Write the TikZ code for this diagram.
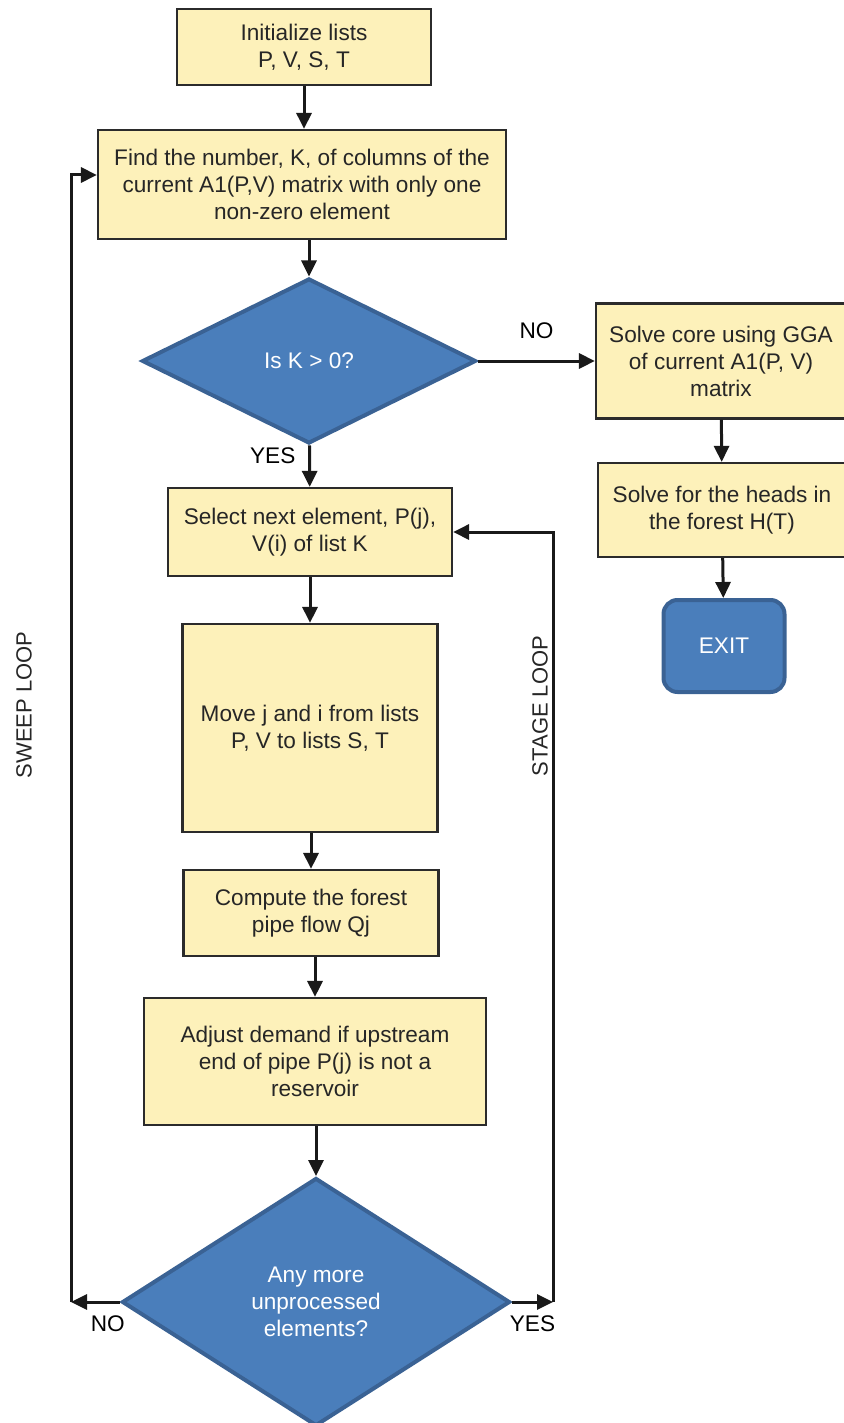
\documentclass[tikz,border=0pt]{standalone}
\usepackage{fontspec}
\setmainfont{Liberation Sans}
\usetikzlibrary{shapes.geometric, arrows.meta}
\definecolor{boxfill}{HTML}{FDF1BA}
\definecolor{boxline}{HTML}{2B2B2B}
\definecolor{decfill}{HTML}{4A7EBB}
\definecolor{decline}{HTML}{3A6294}
\newcommand{\boxfont}{\fontsize{11.3pt}{13.5pt}\selectfont}
\newcommand{\loopfont}{\fontsize{11pt}{13pt}\selectfont}
\tikzstyle{process}=[draw=boxline, fill=boxfill, line width=1.1pt, align=center,
  inner sep=0pt, text=black!85, font=\boxfont]
\tikzstyle{decision}=[diamond, draw=decline, fill=decfill, line width=2pt,
  align=center, inner sep=0pt, text=white, font=\boxfont]
\tikzstyle{terminal}=[rounded corners=7pt, draw=decline, fill=decfill,
  line width=2pt, text=white, font=\boxfont]
\tikzstyle{looplabel}=[rotate=90, font=\loopfont, text=black!85]

\begin{document}
\begin{tikzpicture}[x=0.5pt, y=-0.5pt, line width=1.5pt, draw=black!90,
    >={Triangle[length=8pt,width=7.5pt]}, font=\boxfont]
        \useasboundingbox (0,0) rectangle (844,1423);

        % main column
        \node[process, minimum width=127pt, minimum height=38pt] (init) at (304,47)
            {Initialize lists\\P, V, S, T};
        \node[process, minimum width=204pt, minimum height=54.5pt] (find) at (302,184.5)
            {Find the number, K, of columns of the\\current A1(P,V) matrix with only one\\non-zero element};
        \node[decision, minimum width=167pt, minimum height=82.5pt] (isk) at (309,361)
            {Is K > 0?};
        \node[process, minimum width=142pt, minimum height=44pt] (select) at (310,532)
            {Select next element, P(j),\\V(i) of list K};
        \node[process, minimum width=127.5pt, minimum height=104pt] (move) at (310,728)
            {Move j and i from lists\\P, V to lists S, T};
        \node[process, minimum width=127.5pt, minimum height=43pt] (compute) at (311,913)
            {Compute the forest\\pipe flow Qj};
        \node[process, minimum width=171pt, minimum height=63.5pt] (adjust) at (315,1061.5)
            {Adjust demand if upstream\\end of pipe P(j) is not a\\reservoir};
        \node[decision, minimum width=194pt, minimum height=124pt] (more) at (316,1302)
            {Any more\\unprocessed\\elements?};

        % exit branch
        \node[process, minimum width=125pt, minimum height=57.5pt] (core) at (721,361)
            {Solve core using GGA\\of current A1(P, V)\\matrix};
        \node[process, minimum width=124pt, minimum height=47pt] (heads) at (722,510)
            {Solve for the heads in\\the forest H(T)};
        \node[terminal, minimum width=60.5pt, minimum height=46pt] (exit) at (724,646)
            {EXIT};

        % loop corners
        \coordinate (sweep) at (71,1302);
        \coordinate (stage) at (553,1302);

        \node[looplabel] (sweeplbl) at (24,705) {SWEEP LOOP};
        \node[looplabel] (stagelbl) at (540,706) {STAGE LOOP};

        \path[->]
        (init.south) edge (init.south |- find.north)
        (find.south -| isk) edge (isk)
        (isk) edge node[above=7pt] {NO} (core)
        (isk) edge node[left=3pt, pos=0.25] {YES} (select)
        (core) edge (heads)
        (heads) edge (exit)
        (select) edge (move)
        (move.south -| compute) edge (compute)
        (compute.south -| adjust) edge (adjust)
        (adjust.south -| more) edge (more)
        (more.west) edge node[below=3pt, pos=0.25] {NO} (sweep)
        (more.east) edge node[below=3pt, pos=0.5] {YES} (stage);

        \draw[->] (sweep) |- ([yshift=4.75pt]find.west);
        \draw[->] (stage) |- (select.east);
    \end{tikzpicture}
\end{document}
